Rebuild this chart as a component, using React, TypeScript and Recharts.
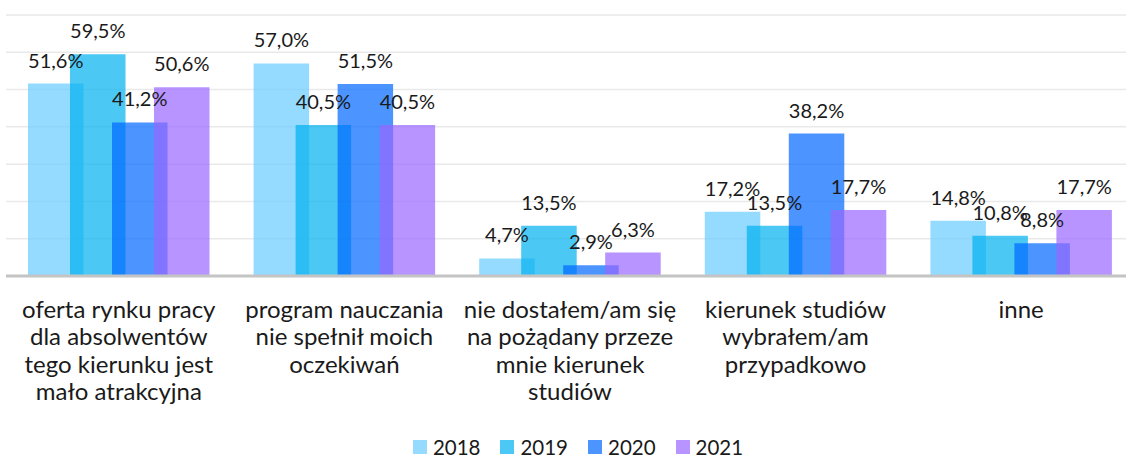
import React from "react";
import { BarChart, Bar, XAxis, YAxis, CartesianGrid, LabelList, Legend } from "recharts";

// kategorie (podział na linie jak w oryginale)
const categories = [
  "oferta rynku pracy\ndla absolwentów\ntego kierunku jest\nmało atrakcyjna",
  "program nauczania\nnie spełnił moich\noczekiwań",
  "nie dostałem/am się\nna pożądany przeze\nmnie kierunek\nstudiów",
  "kierunek studiów\nwybrałem/am\nprzypadkowo",
  "inne",
];

const years = ["2018", "2019", "2020", "2021"];

const v2018 = [51.6, 57.0, 4.7, 17.2, 14.8];
const v2019 = [59.5, 40.5, 13.5, 13.5, 10.8];
const v2020 = [41.2, 51.5, 2.9, 38.2, 8.8];
const v2021 = [50.6, 40.5, 6.3, 17.7, 17.7];

const yTicks = [0, 10, 20, 30, 40, 50, 60, 70];

const COLORS = ["#66CCFF", "#00B0F0", "#0066FF", "#9966FF"];
const OPACITY = 0.7;
const FONT = "Lato, 'Open Sans', sans-serif";
const TEXT = "#1a1a1a";

const data = categories.map((c, i) => ({
  name: c,
  y2018: v2018[i],
  y2019: v2019[i],
  y2020: v2020[i],
  y2021: v2021[i],
}));

const fmt = (v: any) => Number(v).toFixed(1).replace(".", ",") + "%";

function CategoryTick(props: any) {
  const { x, y, payload } = props;
  const lines = String(payload.value).split("\n");
  return (
    <text x={x} y={y} textAnchor="middle" fill={TEXT} fontFamily={FONT} fontSize={24}>
      {lines.map((l, i) => (
        <tspan key={i} x={x} dy={i === 0 ? 33.5 : 27.5}>
          {l}
        </tspan>
      ))}
    </text>
  );
}

function LegendContent() {
  return (
    <div
      style={{
        height: 26,
        paddingTop: 4,
        boxSizing: "border-box",
        display: "flex",
        alignItems: "center",
        justifyContent: "center",
        paddingLeft: 16,
        fontFamily: FONT,
        fontSize: 20.5,
        lineHeight: "22px",
        color: TEXT,
      }}
    >
      {years.map((y, i) => (
        <div key={y} style={{ display: "flex", alignItems: "center", marginRight: i < 3 ? 20 : 0 }}>
          <span
            style={{
              display: "inline-block",
              width: 14,
              height: 14,
              background: COLORS[i],
              opacity: OPACITY,
              marginRight: 6,
            }}
          />
          <span>{y}</span>
        </div>
      ))}
    </div>
  );
}

export default function App() {
  const keys = ["y2018", "y2019", "y2020", "y2021"];
  return (
    <div style={{ position: "absolute", left: 0, top: 0, width: 1126, height: 458, background: "#fff", overflow: "hidden" }}>
      <BarChart
        width={1126}
        height={458}
        data={data}
        margin={{ top: 15, right: -8, left: 6, bottom: 0 }}
        barGap={-13.5}
        barSize={55.5}
      >
        <CartesianGrid vertical={false} stroke="#e9e9e9" strokeWidth={1.5} />
        <YAxis hide domain={[0, 70]} ticks={yTicks} />
        <XAxis
          dataKey="name"
          height={156}
          interval={0}
          tickLine={false}
          axisLine={{ stroke: "#c4c4c4", strokeWidth: 3 }}
          tick={<CategoryTick />}
        />
        <Legend verticalAlign="bottom" content={<LegendContent />} />
        {keys.map((k, i) => (
          <Bar key={k} dataKey={k} name={years[i]} fill={COLORS[i]} fillOpacity={OPACITY} isAnimationActive={false}>
            <LabelList
              dataKey={k}
              position="top"
              offset={16}
              formatter={fmt}
              fill={TEXT}
              fontFamily={FONT}
              fontSize={20}
            />
          </Bar>
        ))}
      </BarChart>
    </div>
  );
}
